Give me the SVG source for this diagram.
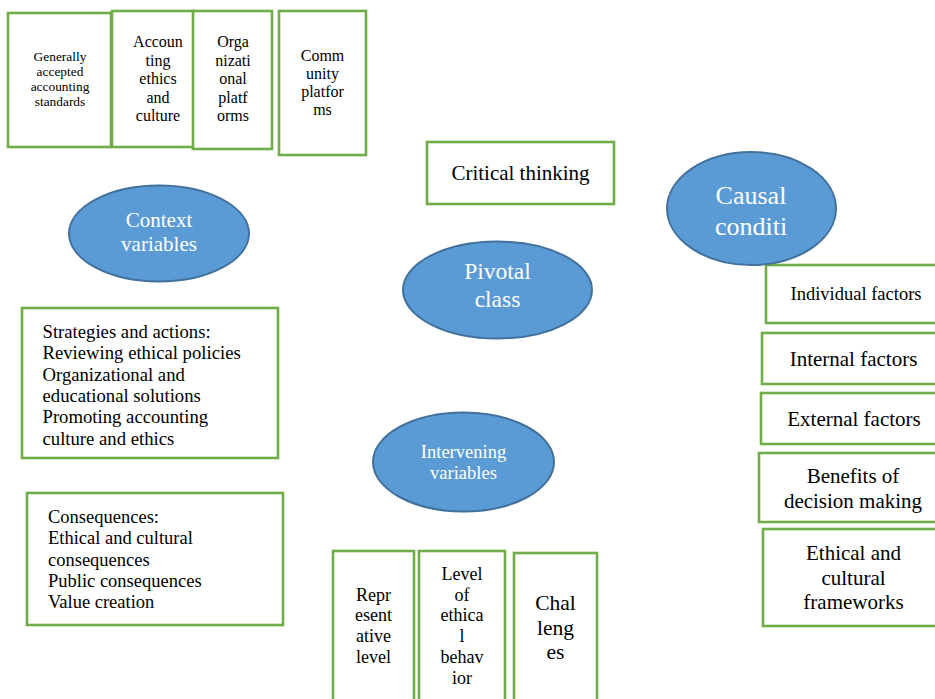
<svg xmlns="http://www.w3.org/2000/svg" width="935" height="699" viewBox="0 0 935 699">
<style>
.box{fill:#fff;stroke:#70AD47;stroke-width:2.6}
.ell{fill:#5B9BD5;stroke:#41719C;stroke-width:2}
text{font-family:'Liberation Serif','DejaVu Serif','Noto Serif',serif;fill:#000}
.c{text-anchor:middle}
.w{fill:#fff}
</style>
<rect x="0" y="0" width="935" height="699" fill="#fff"/>
<g id="connectors"/>
<g id="gaap">
<rect class="box" x="8" y="13" width="103" height="134"/>
<text class="c" font-size="13.4" x="60" y="61">Generally</text>
<text class="c" font-size="13.4" x="60" y="76">accepted</text>
<text class="c" font-size="13.4" x="60" y="91">accounting</text>
<text class="c" font-size="13.4" x="60" y="106">standards</text>
</g>
<g id="ethics-culture">
<rect class="box" x="112" y="11" width="82" height="136"/>
<text class="c" font-size="16" x="158" y="47">Accoun</text>
<text class="c" font-size="16" x="158" y="65.5">ting</text>
<text class="c" font-size="16" x="158" y="84">ethics</text>
<text class="c" font-size="16" x="158" y="102.5">and</text>
<text class="c" font-size="16" x="158" y="121">culture</text>
</g>
<g id="org-platforms">
<rect class="box" x="193" y="11" width="79" height="138"/>
<text class="c" font-size="16" x="233" y="47">Orga</text>
<text class="c" font-size="16" x="233" y="65.5">nizati</text>
<text class="c" font-size="16" x="233" y="84">onal</text>
<text class="c" font-size="16" x="233" y="102.5">platf</text>
<text class="c" font-size="16" x="233" y="121">orms</text>
</g>
<g id="community-platforms">
<rect class="box" x="279" y="11" width="87" height="144"/>
<text class="c" font-size="16" x="322.5" y="61">Comm</text>
<text class="c" font-size="16" x="322.5" y="79">unity</text>
<text class="c" font-size="16" x="322.5" y="97">platfor</text>
<text class="c" font-size="16" x="322.5" y="115">ms</text>
</g>
<g id="critical-thinking">
<rect class="box" x="427" y="142" width="187" height="62"/>
<text class="c" font-size="21" x="520.5" y="180">Critical thinking</text>
</g>
<g id="context-variables">
<ellipse class="ell" cx="159" cy="233.5" rx="90" ry="48"/>
<text class="c w" font-size="21" x="159" y="226.5">Context</text>
<text class="c w" font-size="21" x="159" y="251">variables</text>
</g>
<g id="pivotal-class">
<ellipse class="ell" cx="497.5" cy="290" rx="94.5" ry="48.5"/>
<text class="c w" font-size="23.5" x="497.5" y="279">Pivotal</text>
<text class="c w" font-size="23.5" x="497.5" y="306.5">class</text>
</g>
<g id="individual-factors">
<rect class="box" x="766" y="265" width="174" height="58"/>
<text class="c" font-size="18.5" x="856" y="300">Individual factors</text>
</g>
<g id="causal-conditions">
<ellipse class="ell" cx="751.5" cy="208.5" rx="84.5" ry="56.5"/>
<text class="c w" font-size="26" x="751" y="204">Causal</text>
<text class="c w" font-size="26" x="751" y="235">conditi</text>
</g>
<g id="internal-factors">
<rect class="box" x="762" y="333" width="178" height="51"/>
<text class="c" font-size="21" x="853.5" y="366">Internal factors</text>
</g>
<g id="external-factors">
<rect class="box" x="761" y="393" width="179" height="51"/>
<text class="c" font-size="21" x="854" y="426">External factors</text>
</g>
<g id="benefits">
<rect class="box" x="759" y="453" width="181" height="69"/>
<text class="c" font-size="21" x="853" y="483">Benefits of</text>
<text class="c" font-size="21" x="853" y="508">decision making</text>
</g>
<g id="frameworks">
<rect class="box" x="763" y="529" width="177" height="97"/>
<text class="c" font-size="21" x="853.5" y="560">Ethical and</text>
<text class="c" font-size="21" x="853.5" y="585">cultural</text>
<text class="c" font-size="21" x="853.5" y="609">frameworks</text>
</g>
<g id="strategies">
<rect class="box" x="22" y="308" width="256" height="150"/>
<text font-size="18.7" x="42.5" y="338">Strategies and actions:</text>
<text font-size="18.7" x="42.5" y="359.3">Reviewing ethical policies</text>
<text font-size="18.7" x="42.5" y="380.6">Organizational and</text>
<text font-size="18.7" x="42.5" y="401.9">educational solutions</text>
<text font-size="18.7" x="42.5" y="423.2">Promoting accounting</text>
<text font-size="18.7" x="42.5" y="444.5">culture and ethics</text>
</g>
<g id="intervening-variables">
<ellipse class="ell" cx="463.5" cy="462" rx="90.5" ry="49.5"/>
<text class="c w" font-size="18.5" x="463.5" y="458">Intervening</text>
<text class="c w" font-size="18.5" x="463.5" y="479">variables</text>
</g>
<g id="consequences">
<rect class="box" x="27" y="493" width="256" height="132"/>
<text font-size="18.5" x="48" y="523">Consequences:</text>
<text font-size="18.5" x="48" y="544.3">Ethical and cultural</text>
<text font-size="18.5" x="48" y="565.6">consequences</text>
<text font-size="18.5" x="48" y="586.9">Public consequences</text>
<text font-size="18.5" x="48" y="608.2">Value creation</text>
</g>
<g id="representative-level">
<rect class="box" x="333" y="551" width="81" height="155"/>
<text class="c" font-size="18" x="373.5" y="600.5">Repr</text>
<text class="c" font-size="18" x="373.5" y="621.2">esent</text>
<text class="c" font-size="18" x="373.5" y="641.9">ative</text>
<text class="c" font-size="18" x="373.5" y="662.6">level</text>
</g>
<g id="ethical-behavior">
<rect class="box" x="419" y="551" width="86" height="155"/>
<text class="c" font-size="18" x="462" y="580">Level</text>
<text class="c" font-size="18" x="462" y="600.7">of</text>
<text class="c" font-size="18" x="462" y="621.4">ethica</text>
<text class="c" font-size="18" x="462" y="642.1">l</text>
<text class="c" font-size="18" x="462" y="662.8">behav</text>
<text class="c" font-size="18" x="462" y="683.5">ior</text>
</g>
<g id="challenges">
<rect class="box" x="514" y="553" width="83" height="153"/>
<text class="c" font-size="21.5" x="555.5" y="610">Chal</text>
<text class="c" font-size="21.5" x="555.5" y="634.7">leng</text>
<text class="c" font-size="21.5" x="555.5" y="659.4">es</text>
</g>
</svg>
